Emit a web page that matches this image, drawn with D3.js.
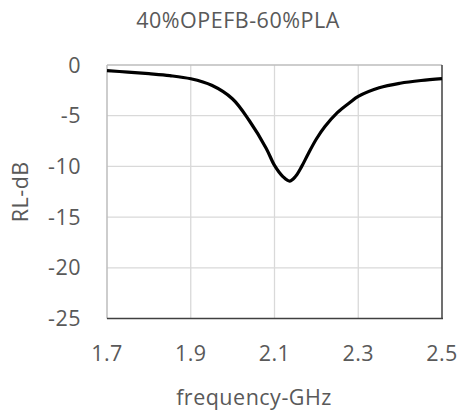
<!DOCTYPE html>
<html>
<head>
<meta charset="utf-8">
<script src="https://cdn.jsdelivr.net/npm/d3@7"></script>
<style>
  body { margin: 0; background: #fff; }
  text { font-family: "Open Sans", sans-serif; fill: #595959; letter-spacing: 0.5px; }
</style>
</head>
<body>
<div id="chart"></div>
<script>
'use strict';

const chart_title = "40%OPEFB-60%PLA";
const x_title = "frequency-GHz";
const y_title = "RL-dB";

const x_ticks = [1.7, 1.9, 2.1, 2.3, 2.5];
const y_ticks = [0, -5, -10, -15, -20, -25];

const freq = [1.70, 1.75, 1.80, 1.85, 1.90, 1.95, 2.00, 2.04, 2.08, 2.10, 2.12, 2.136, 2.15, 2.165, 2.18, 2.20, 2.22, 2.25, 2.28, 2.30, 2.35, 2.40, 2.45, 2.50];
const rl   = [-0.55, -0.7, -0.86, -1.05, -1.36, -2.0, -3.35, -5.5, -8.2, -9.9, -11.0, -11.45, -11.0, -10.0, -8.8, -7.3, -6.1, -4.7, -3.7, -3.1, -2.25, -1.8, -1.53, -1.35];

const width = 459;
const height = 415;
const plot = {left: 107, right: 442, top: 65, bottom: 318.5};
const font_size = 21.5;

const svg = d3.select("#chart").append("svg")
  .attr("width", width)
  .attr("height", height);

const x = d3.scaleLinear().domain([1.7, 2.5]).range([plot.left, plot.right]);
const y = d3.scaleLinear().domain([-25, 0]).range([plot.bottom, plot.top]);

/* gridlines */
svg.append("g")
  .selectAll("line")
  .data(y_ticks.filter(function(d) { return d > -25 && d < 0; }))
  .enter().append("line")
  .attr("x1", plot.left).attr("x2", plot.right)
  .attr("y1", function(d) { return y(d); })
  .attr("y2", function(d) { return y(d); })
  .attr("stroke", "#d9d9d9").attr("stroke-width", 1.3);

svg.append("g")
  .selectAll("line")
  .data(x_ticks.filter(function(d) { return d > 1.7 && d < 2.5; }))
  .enter().append("line")
  .attr("y1", plot.top).attr("y2", plot.bottom)
  .attr("x1", function(d) { return x(d); })
  .attr("x2", function(d) { return x(d); })
  .attr("stroke", "#d9d9d9").attr("stroke-width", 1.3);

/* frame: top / left light, bottom / right dark */
svg.append("line")
  .attr("x1", plot.left).attr("x2", plot.right)
  .attr("y1", plot.top).attr("y2", plot.top)
  .attr("stroke", "#bcbcbc").attr("stroke-width", 1.5);
svg.append("line")
  .attr("x1", plot.left).attr("x2", plot.left)
  .attr("y1", plot.top).attr("y2", plot.bottom)
  .attr("stroke", "#bcbcbc").attr("stroke-width", 1.5);
svg.append("line")
  .attr("x1", plot.left).attr("x2", plot.right + 1)
  .attr("y1", plot.bottom).attr("y2", plot.bottom)
  .attr("stroke", "#404040").attr("stroke-width", 1.5);
svg.append("line")
  .attr("x1", plot.right).attr("x2", plot.right)
  .attr("y1", plot.top).attr("y2", plot.bottom)
  .attr("stroke", "#404040").attr("stroke-width", 1.5);

/* tick labels */
svg.append("g")
  .selectAll("text")
  .data(y_ticks)
  .enter().append("text")
  .attr("x", 81)
  .attr("y", function(d) { return y(d); })
  .attr("dy", "0.35em")
  .attr("text-anchor", "end")
  .attr("font-size", font_size)
  .text(function(d) { return d; });

svg.append("g")
  .selectAll("text")
  .data(x_ticks)
  .enter().append("text")
  .attr("x", function(d) { return x(d); })
  .attr("y", 361)
  .attr("text-anchor", "middle")
  .attr("font-size", font_size)
  .text(function(d) { return d3.format(".1f")(d); });

/* titles */
svg.append("text")
  .attr("x", 238).attr("y", 28)
  .attr("text-anchor", "middle")
  .attr("font-size", font_size)
  .text(chart_title);

svg.append("text")
  .attr("x", 254).attr("y", 405)
  .attr("text-anchor", "middle")
  .attr("font-size", font_size)
  .text(x_title);

svg.append("text")
  .attr("transform", "translate(28," + ((plot.top + plot.bottom) / 2) + ") rotate(-90)")
  .attr("text-anchor", "middle")
  .attr("font-size", font_size)
  .text(y_title);

/* the curve */
const line = d3.line()
  .x(function(d) { return x(d[0]); })
  .y(function(d) { return y(d[1]); })
  .curve(d3.curveCatmullRom.alpha(0.5));

svg.append("path")
  .datum(d3.zip(freq, rl))
  .attr("fill", "none")
  .attr("stroke", "#000")
  .attr("stroke-width", 3.2)
  .attr("stroke-linejoin", "round")
  .attr("d", line);
</script>
</body>
</html>
